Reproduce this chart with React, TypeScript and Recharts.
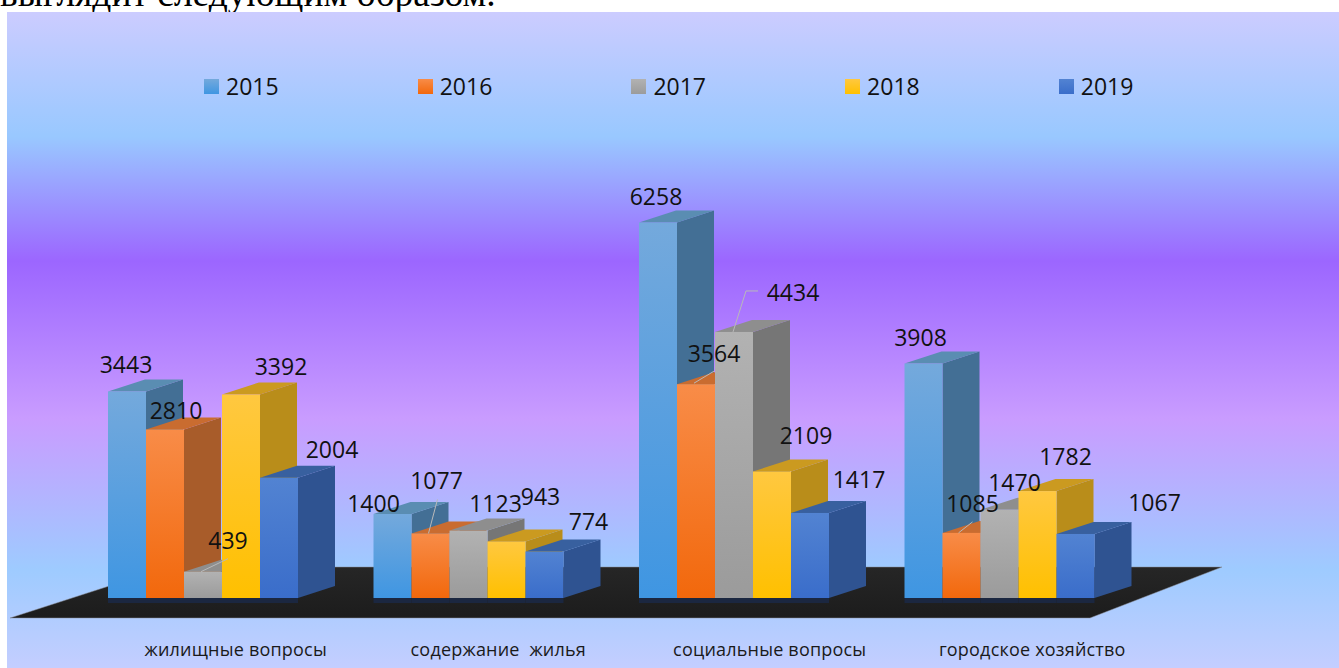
import { BarChart, Bar, XAxis, YAxis, Legend, LabelList } from "recharts"

const categories = ["жилищные вопросы", "содержание  жилья", "социальные вопросы", "городское хозяйство"]
const years = ["2015", "2016", "2017", "2018", "2019"]
const values2015 = [3443, 1400, 6258, 3908]
const values2016 = [2810, 1077, 3564, 1085]
const values2017 = [439, 1123, 4434, 1470]
const values2018 = [3392, 943, 2109, 1782]
const values2019 = [2004, 774, 1417, 1067]

const allValues = [values2015, values2016, values2017, values2018, values2019]
const data = categories.map((name, c) => {
    const row: Record<string, any> = { name }
    years.forEach((y, s) => { row[y] = allValues[s][c] })
    return row
})

const frontTop = ["#74a9dc", "#f88c48", "#b2b2b2", "#ffc840", "#5283d2"]
const frontBottom = ["#3f96e2", "#f2680c", "#9b9b9b", "#ffc000", "#3a6dca"]
const sideColors = ["#436f95", "#a85c2a", "#767676", "#b98d1a", "#2f5391"]
const topColors = ["#5a8db2", "#c96c30", "#8e8e8e", "#cb9a20", "#38609f"]

// label offsets from the top centre of each bar, [series][category]
const labelDx = [[-1, -19, -2, -3], [11, 6, 18, 11], [25, 27, 59, 15], [40, 34, 34, 28], [53, 44, 49, 79]]
const labelDy = [[-27, -11, -27, -27], [-19, -53, -31, -30], [-32, -28, -40, -28], [-28, -45, -36, -35], [-29, -31, -34, -32]]
const tickShift = [33, 30, 36, 33]

// leader lines, relative to the same point
const leaders: Record<string, string> = {
    "2-0": "-2,0 25,-13",
    "1-1": "-2,0 7,-34",
    "1-2": "-2,-1 18,-13",
    "2-2": "-1,0 12,-41 24,-41",
    "1-3": "-3,0 11,-11",
}

const DEPTH_X = 37
const DEPTH_Y = 12

const makeShape = (s: number) => (props: any) => {
    const { x, y, width, height } = props
    const b = y + height
    return (
        <g>
            <rect x={x} y={b} width={width} height={5} fill="#1b2740" />
            <polygon points={`${x + width},${y} ${x + width + DEPTH_X},${y - DEPTH_Y} ${x + width + DEPTH_X},${b - DEPTH_Y} ${x + width},${b}`} fill={sideColors[s]} />
            <polygon points={`${x},${y} ${x + DEPTH_X},${y - DEPTH_Y} ${x + width + DEPTH_X},${y - DEPTH_Y} ${x + width},${y}`} fill={topColors[s]} />
            <rect x={x} y={y} width={width} height={height} fill={`url(#front-${s})`} />
        </g>
    )
}

const makeLabel = (s: number) => (props: any) => {
    const { x, y, width, value, index } = props
    const cx = x + width / 2
    const leader = leaders[`${s}-${index}`]
    return (
        <g>
            {leader && (
                <polyline
                    points={leader.split(" ").map((p) => {
                        const [a, b] = p.split(",").map(Number)
                        return `${cx + a},${y + b}`
                    }).join(" ")}
                    fill="none"
                    stroke="#b9b9b9"
                    strokeWidth={1}
                />
            )}
            <text x={cx + labelDx[s][index]} y={y + labelDy[s][index]} textAnchor="middle" dominantBaseline="central" fontSize={23} fill="#111">
                {value}
            </text>
        </g>
    )
}

const CategoryTick = (props: any) => {
    const { x, y, payload, index } = props
    return (
        <text x={x + tickShift[index]} y={y + 50} textAnchor="middle" fontSize={18} letterSpacing={0.2} fill="#1a1a1a" style={{ whiteSpace: "pre" }}>
            {payload.value}
        </text>
    )
}

const legendContent = () => (
    <div style={{ position: "relative", height: 30 }}>
        {years.map((y, s) => (
            <div key={y} style={{ position: "absolute", left: s * 213.7, top: 0, display: "flex", alignItems: "center", height: 30 }}>
                <span style={{ width: 15, height: 15, background: `linear-gradient(${frontTop[s]}, ${frontBottom[s]})`, marginRight: 7 }} />
                <span style={{ fontSize: 23, color: "#111" }}>{y}</span>
            </div>
        ))}
    </div>
)

export default function App() {
    return (
        <div style={{ position: "absolute", left: 0, top: 0, width: 1339, height: 668, overflow: "hidden", background: "#fff", fontFamily: "'Open Sans', sans-serif" }}>
            <div style={{ position: "absolute", left: 0, top: -28, fontFamily: "'Liberation Serif', serif", fontSize: 37.5, whiteSpace: "nowrap", color: "#000" }}>
                выглядит следующим образом.
            </div>
            <div
                style={{
                    position: "absolute",
                    left: 7,
                    top: 12,
                    width: 1332,
                    height: 656,
                    background:
                        "linear-gradient(180deg, #ccccff 0%, #a3c9ff 15%, #99c8ff 19%, #9c66ff 38%, #c99cff 62%, #9ecbff 85%, #c4ceff 100%)",
                }}
            />
            <div style={{ position: "absolute", left: 0, top: 0 }}>
                <BarChart
                    width={1339}
                    height={668}
                    data={data}
                    margin={{ top: 148, right: 207, bottom: 0, left: 70 }}
                    barSize={38}
                    barGap={0}
                >
                    <defs>
                        {years.map((y, s) => (
                            <linearGradient key={y} id={`front-${s}`} x1="0" y1="0" x2="0" y2="1">
                                <stop offset="0%" stopColor={frontTop[s]} />
                                <stop offset="100%" stopColor={frontBottom[s]} />
                            </linearGradient>
                        ))}
                        <linearGradient id="floor" x1="0" y1="0" x2="0" y2="1">
                            <stop offset="0%" stopColor="#262626" />
                            <stop offset="100%" stopColor="#1c1c1c" />
                        </linearGradient>
                    </defs>
                    <polygon points="10,618 168,567 1222,567 1090,618" fill="url(#floor)" stroke="#8a8f98" strokeWidth={0.5} />
                    <XAxis dataKey="name" axisLine={false} tickLine={false} tick={<CategoryTick />} height={70} interval={0} />
                    <YAxis hide domain={[0, 7000]} />
                    <Legend
                        verticalAlign="top"
                        height={0}
                        content={legendContent}
                        wrapperStyle={{ position: "absolute", left: 204, top: 71, width: 1000 }}
                    />
                    {years.map((y, s) => (
                        <Bar key={y} dataKey={y} isAnimationActive={false} shape={makeShape(s)}>
                            <LabelList dataKey={y} content={makeLabel(s)} />
                        </Bar>
                    ))}
                </BarChart>
            </div>
        </div>
    )
}
